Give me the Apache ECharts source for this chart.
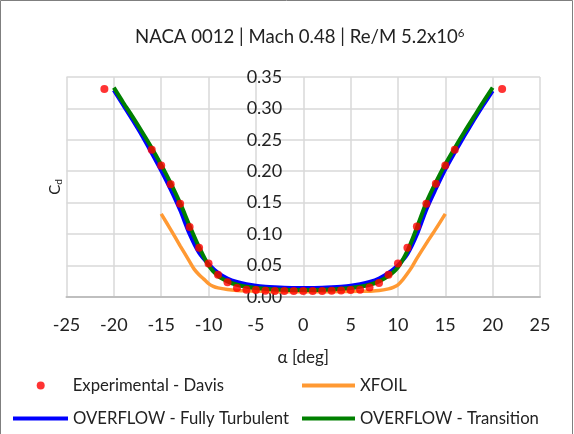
<!DOCTYPE html>
<html>
<head>
<meta charset="utf-8">
<script src="https://cdn.jsdelivr.net/npm/echarts@6/dist/echarts.min.js"></script>
<style>
  html, body { margin: 0; padding: 0; background: #fff; }
  #chart { width: 574px; height: 434px; }
</style>
</head>
<body>
<div id="chart"></div>
<script>
// Angle of attack tick labels and series data (alpha in degrees, Cd)
const alphaTicks = [-25, -20, -15, -10, -5, 0, 5, 10, 15, 20, 25];
const cdTicks = [0, 0.05, 0.10, 0.15, 0.20, 0.25, 0.30, 0.35];

// Experimental - Davis
const alphaExp = [-21, -16, -15, -14, -13, -12, -11, -10, -9, -8, -7, -6, -5, -4, -3, -2, -1, 0,
                  1, 2, 3, 4, 5, 6, 7, 8, 9, 10, 11, 12, 13, 14, 15, 16, 21];
const cdExp = [0.331, 0.234, 0.209, 0.179, 0.148, 0.111, 0.078, 0.053, 0.035, 0.023, 0.014, 0.011,
               0.0105, 0.0095, 0.009, 0.009, 0.009, 0.009, 0.009, 0.009, 0.0095, 0.010, 0.0105,
               0.011, 0.0145, 0.022, 0.035, 0.053, 0.078, 0.112, 0.148, 0.180, 0.209, 0.234, 0.331];

// XFOIL
const alphaXfoil = [-15, -14, -13, -12, -11.5, -11, -10.5, -10, -9.5, -9, -8, -7, -6, -4, -2, 0,
                    2, 4, 6, 7, 8, 9, 9.5, 10, 10.5, 11, 11.5, 12, 13, 14, 15];
const cdXfoil = [0.132, 0.107, 0.081, 0.056, 0.0435, 0.035, 0.028, 0.021, 0.0165, 0.014, 0.0115,
                 0.010, 0.0093, 0.0085, 0.008, 0.008, 0.008, 0.0082, 0.0085, 0.0088, 0.0097,
                 0.0125, 0.015, 0.019, 0.027, 0.037, 0.048, 0.061, 0.085, 0.108, 0.132];

// OVERFLOW runs share the same alpha sweep
const alphaOverflow = [-20, -19, -18, -17, -16, -15, -14, -13, -12, -11, -10, -9, -8, -7, -6, -5,
                       -4, -3, -2, -1, 0, 1, 2, 3, 4, 5, 6, 7, 8, 9, 10, 11, 12, 13, 14, 15, 16,
                       17, 18, 19, 20];
const cdFullyTurbulent = [0.329, 0.305, 0.281, 0.256, 0.229, 0.201, 0.171, 0.138, 0.100, 0.070,
                          0.052, 0.038, 0.029, 0.0235, 0.020, 0.0175, 0.016, 0.015, 0.0143, 0.014,
                          0.0138, 0.014, 0.0143, 0.015, 0.016, 0.0175, 0.020, 0.0235, 0.029, 0.038,
                          0.050, 0.068, 0.099, 0.139, 0.172, 0.203, 0.230, 0.256, 0.281, 0.305, 0.328];
const cdTransition = [0.333, 0.309, 0.286, 0.262, 0.237, 0.210, 0.181, 0.149, 0.113, 0.079, 0.050,
                      0.033, 0.0245, 0.019, 0.0158, 0.0138, 0.0125, 0.0115, 0.011, 0.0106, 0.0105,
                      0.0106, 0.011, 0.0115, 0.0125, 0.0138, 0.0158, 0.019, 0.0245, 0.033, 0.047,
                      0.073, 0.110, 0.150, 0.182, 0.211, 0.237, 0.262, 0.286, 0.310, 0.333];

const names = {
  exp: 'Experimental - Davis',
  xfoil: 'XFOIL',
  ft: 'OVERFLOW - Fully Turbulent',
  tr: 'OVERFLOW - Transition'
};

const pairs = (xs, ys) => xs.map((x, i) => [x, ys[i]]);

const FONT = 'Lato';
const TEXT = '#222222';
const GRID = '#d9d9d9';

// plot box in pixels; the Cd axis sits on alpha = 0
const GRID_LEFT = 66.5, GRID_RIGHT = 34, GRID_TOP = 77, GRID_BOTTOM = 137.3;
const plotWidth = 574 - GRID_LEFT - GRID_RIGHT;
const zeroOffset = plotWidth * (0 - alphaTicks[0]) / (alphaTicks[alphaTicks.length - 1] - alphaTicks[0]);

const chart = echarts.init(document.getElementById('chart'), null, { renderer: 'canvas' });

const legendBase = {
  orient: 'horizontal',
  padding: 0,
  itemGap: 0,
  selectedMode: false,
  textStyle: { fontFamily: FONT, fontSize: 16.7, color: TEXT }
};

chart.setOption({
  backgroundColor: '#ffffff',
  animation: false,
  title: {
    text: '{a|NACA 0012 | Mach 0.48 | Re/M 5.2x10}{b|6}',
    left: 130,
    top: 22,
    textStyle: {
      fontWeight: 'normal',
      rich: {
        a: { fontFamily: FONT, fontSize: 18.6, fontWeight: 'normal', color: TEXT, lineHeight: 20 },
        b: { fontFamily: FONT, fontSize: 11.5, fontWeight: 'normal', color: TEXT, verticalAlign: 'top', lineHeight: 12 }
      }
    }
  },
  graphic: [{
    type: 'rect',
    silent: true,
    shape: { x: 0.5, y: 0.5, width: 572, height: 450 },
    style: { fill: null, stroke: '#7f7f7f', lineWidth: 1 }
  }],
  legend: [
    Object.assign({}, legendBase, {
      data: [{ name: names.exp, icon: 'circle' }], left: 36.7, top: 377, itemWidth: 8, itemHeight: 8,
      textStyle: { fontFamily: FONT, fontSize: 16.7, color: TEXT, padding: [0, 0, 0, 23] }
    }),
    Object.assign({}, legendBase, { data: [{ name: names.xfoil, icon: 'rect' }], left: 302, top: 377, itemWidth: 53, itemHeight: 4 }),
    Object.assign({}, legendBase, { data: [{ name: names.ft, icon: 'rect' }], left: 13, top: 410, itemWidth: 55, itemHeight: 4 }),
    Object.assign({}, legendBase, { data: [{ name: names.tr, icon: 'rect' }], left: 302, top: 410, itemWidth: 53, itemHeight: 4 })
  ],
  grid: { left: GRID_LEFT, right: GRID_RIGHT, top: GRID_TOP, bottom: GRID_BOTTOM, containLabel: false, outerBoundsMode: 'none' },
  xAxis: {
    type: 'value',
    min: alphaTicks[0],
    max: alphaTicks[alphaTicks.length - 1],
    interval: 5,
    name: 'α [deg]',
    nameLocation: 'middle',
    nameGap: 52,
    nameTextStyle: { fontFamily: FONT, fontSize: 17, color: TEXT },
    axisLine: { onZero: false, lineStyle: { color: '#bfbfbf', width: 2 } },
    axisTick: { show: false },
    axisLabel: { fontFamily: FONT, fontSize: 18, color: TEXT, margin: 19 },
    splitLine: { show: true, lineStyle: { color: GRID, width: 1.5 } }
  },
  yAxis: {
    type: 'value',
    position: 'left',
    offset: -zeroOffset,
    min: cdTicks[0],
    max: cdTicks[cdTicks.length - 1],
    interval: 0.05,
    name: '{c|C}{d|d}',
    nameLocation: 'middle',
    nameRotate: 90,
    nameGap: 239,
    nameTextStyle: {
      rich: {
        c: { fontFamily: FONT, fontSize: 15, color: TEXT, lineHeight: 18 },
        d: { fontFamily: FONT, fontSize: 10, color: TEXT, verticalAlign: 'bottom', lineHeight: 10 }
      }
    },
    axisLine: { show: false, onZero: false },
    axisTick: { show: false },
    axisLabel: {
      fontFamily: FONT, fontSize: 18, color: TEXT, margin: 21,
      formatter: v => v.toFixed(2)
    },
    splitLine: { show: true, lineStyle: { color: GRID, width: 1.5 } }
  },
  series: [
    {
      name: names.xfoil,
      type: 'line',
      data: pairs(alphaXfoil, cdXfoil),
      smooth: 0.3,
      showSymbol: false,
      symbol: 'none',
      color: '#ff9933',
      lineStyle: { color: '#ff9933', width: 3.5 },
      z: 2
    },
    {
      name: names.ft,
      type: 'line',
      data: pairs(alphaOverflow, cdFullyTurbulent),
      smooth: 0.3,
      showSymbol: false,
      symbol: 'none',
      color: '#0000ff',
      lineStyle: { color: '#0000ff', width: 4 },
      z: 3
    },
    {
      name: names.tr,
      type: 'line',
      data: pairs(alphaOverflow, cdTransition),
      smooth: 0.3,
      showSymbol: false,
      symbol: 'none',
      color: '#008000',
      lineStyle: { color: '#008000', width: 4 },
      z: 4
    },
    {
      name: names.exp,
      type: 'scatter',
      data: pairs(alphaExp, cdExp),
      symbol: 'circle',
      symbolSize: 8,
      color: '#ff0000',
      itemStyle: { color: '#ff0000' },
      z: 5
    }
  ]
});
</script>
</body>
</html>
